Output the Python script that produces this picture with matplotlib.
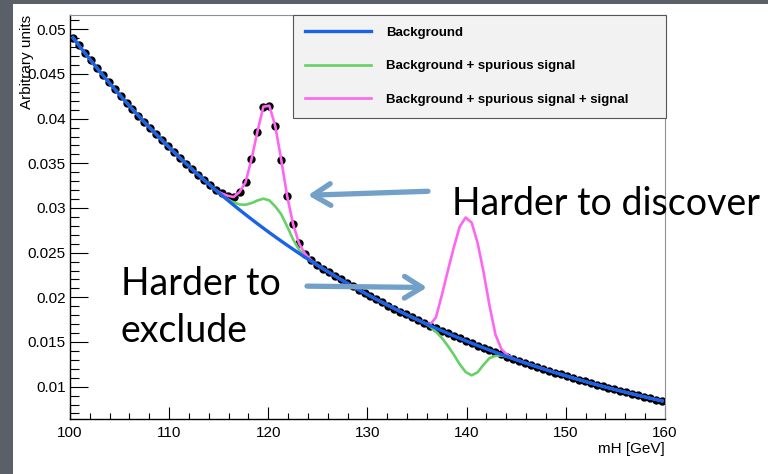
import numpy as np
import matplotlib
matplotlib.use("Agg")
import matplotlib.pyplot as plt
from matplotlib.patches import Rectangle
from matplotlib.ticker import MultipleLocator, FuncFormatter

# Centres des bins (0.6 GeV) entre 100 et 160 GeV
mass = np.round(np.arange(100.3, 160.0, 0.6), 1)

# Fond (unités arbitraires)
background = [
    0.049061, 0.048195, 0.047344, 0.046508, 0.045686, 0.044879, 0.044087, 0.043308, 0.042543, 0.041792,
    0.041054, 0.040329, 0.039616, 0.038917, 0.038229, 0.037554, 0.036891, 0.036239, 0.035599, 0.034971,
    0.034353, 0.033746, 0.033150, 0.032565, 0.031990, 0.031425, 0.030870, 0.030325, 0.029789, 0.029263,
    0.028746, 0.028238, 0.027739, 0.027249, 0.026768, 0.026295, 0.025831, 0.025375, 0.024927, 0.024487,
    0.024054, 0.023629, 0.023212, 0.022802, 0.022399, 0.022003, 0.021614, 0.021232, 0.020857, 0.020489,
    0.020127, 0.019772, 0.019423, 0.019080, 0.018743, 0.018412, 0.018087, 0.017767, 0.017453, 0.017145,
    0.016842, 0.016545, 0.016253, 0.015966, 0.015684, 0.015407, 0.015135, 0.014868, 0.014605, 0.014347,
    0.014094, 0.013845, 0.013600, 0.013360, 0.013124, 0.012892, 0.012664, 0.012440, 0.012220, 0.012004,
    0.011792, 0.011584, 0.011379, 0.011178, 0.010981, 0.010787, 0.010596, 0.010409, 0.010225, 0.010044,
    0.009867, 0.009693, 0.009522, 0.009354, 0.009189, 0.009027, 0.008868, 0.008711, 0.008557, 0.008406,
]

# Excès autour de 120 GeV (relatif au fond)
bins_120 = [115.3, 115.9, 116.5, 117.1, 117.7, 118.3, 118.9, 119.5, 120.1,
            120.7, 121.3, 121.9, 122.5, 123.1, 123.7, 124.3, 124.9]
spurious_120 = [0.0000, 0.0001, 0.0003, 0.0006, 0.0011, 0.0018, 0.0026, 0.0033, 0.0036,
                0.0034, 0.0030, 0.0021, 0.0011, 0.0004, 0.0001, 0.0000, 0.0000]
total_120 = [0.0002, 0.0005, 0.0009, 0.0020, 0.0036, 0.0067, 0.0103, 0.0136, 0.0142,
             0.0124, 0.0091, 0.0055, 0.0028, 0.0011, 0.0004, 0.0001, 0.0000]

# Excès autour de 140 GeV (relatif au fond)
bins_140 = [135.7, 136.3, 136.9, 137.5, 138.1, 138.7, 139.3, 139.9,
            140.5, 141.1, 141.7, 142.3, 142.9, 143.5, 144.1, 144.7]
spurious_140 = [0.0000, -0.0001, -0.0004, -0.0008, -0.0014, -0.0021, -0.0029, -0.0035,
                -0.0036, -0.0030, -0.0019, -0.0009, -0.0004, -0.0001, 0.0000, 0.0000]
total_140 = [0.0000, 0.0001, 0.0012, 0.0040, 0.0070, 0.0099, 0.0125, 0.0138,
             0.0135, 0.0115, 0.0085, 0.0050, 0.0020, 0.0006, 0.0002, 0.0000]

legend_labels = ["Background", "Background + spurious signal",
                 "Background + spurious signal + signal"]


def index_of(bins):
    return np.abs(mass[:, None] - np.array(bins)[None, :]).argmin(axis=0)


bkg = np.array(background)
bkg_spur = bkg.copy()
bkg_spur[index_of(bins_120)] += spurious_120
bkg_spur[index_of(bins_140)] += spurious_140
bkg_spur_sig = bkg.copy()
bkg_spur_sig[index_of(bins_120)] += total_120
bkg_spur_sig[index_of(bins_140)] += total_140
# Les données suivent le signal à 120 GeV et le fond ailleurs
data = bkg.copy()
data[index_of(bins_120)] += total_120

font = "Liberation Sans"

fig = plt.figure(figsize=(7.68, 4.74), dpi=100)
fig.patch.set_facecolor("#5b5f67")
fig.add_artist(Rectangle((13 / 768, 0), 1 - 13 / 768, 1 - 4 / 474, transform=fig.transFigure,
                         facecolor="white", edgecolor="none", zorder=-1))

ax = fig.add_axes([70 / 768, 1 - 419 / 474, 595 / 768, 404 / 474])
ax.set_facecolor("white")

ax.plot(mass, data, "o", color="black", markersize=5.0, zorder=2)
l_spur, = ax.plot(mass, bkg_spur, color="#66d166", lw=1.9, zorder=3)
l_sig, = ax.plot(mass, bkg_spur_sig, color="#ff66f0", lw=1.9, zorder=4)
l_bkg, = ax.plot(mass, bkg, color="#1a62e8", lw=2.4, zorder=5)

ax.set_xlim(100, 160)
ax.set_ylim(0.00638, 0.0516)
ax.xaxis.set_major_locator(MultipleLocator(10))
ax.xaxis.set_minor_locator(MultipleLocator(2))
ax.yaxis.set_major_locator(MultipleLocator(0.005))
ax.yaxis.set_minor_locator(MultipleLocator(0.001))
ax.yaxis.set_major_formatter(FuncFormatter(lambda v, p: "%g" % round(v, 4)))

ax.tick_params(axis="y", which="major", direction="in", length=12.7, width=0.8, pad=3)
ax.tick_params(axis="y", which="minor", direction="in", length=6.3, width=0.8)
ax.tick_params(axis="x", which="major", direction="in", length=8.4, width=0.8, pad=5)
ax.tick_params(axis="x", which="minor", direction="in", length=4.1, width=0.8)
ax.tick_params(top=False, right=False, which="both", labelsize=11, colors="black")
for lab in ax.get_xticklabels() + ax.get_yticklabels():
    lab.set_family(font)

for side in ["left", "bottom"]:
    ax.spines[side].set_color("black")
    ax.spines[side].set_linewidth(1.0)
for side in ["top", "right"]:
    ax.spines[side].set_color("#909090")
    ax.spines[side].set_linewidth(0.8)

leg = ax.legend([l_bkg, l_spur, l_sig], legend_labels, loc="upper left",
                bbox_to_anchor=(0.3748, 0.0, 0.627, 1.0), mode="expand", borderaxespad=0,
                prop={"family": font, "weight": "bold", "size": 9.5},
                fancybox=False, framealpha=1, facecolor="#f2f2f2", edgecolor="#555555",
                borderpad=0.88, labelspacing=1.62, handlelength=5.0, handletextpad=1.2)
leg.get_frame().set_linewidth(0.8)
leg.set_zorder(10)

fig.text(27 / 768, 1 - 15 / 474, "Arbitrary units", rotation=90, ha="center", va="top",
         fontsize=11, family=font)
fig.text(665 / 768, 1 - 449 / 474, "mH [GeV]", ha="right", va="center", fontsize=11, family=font)

# Annotations
fig.text(452 / 768, 1 - 215 / 474, "Harder to discover", fontsize=27, family="Lato",
         va="baseline", ha="left", zorder=12)
fig.text(121 / 768, 1 - 295 / 474, "Harder to", fontsize=27, family="Lato",
         va="baseline", ha="left", zorder=12)
fig.text(121 / 768, 1 - 342 / 474, "exclude", fontsize=27, family="Lato",
         va="baseline", ha="left", zorder=12)

arrow = dict(arrowstyle="->,head_length=0.42,head_width=0.26", color="#72a0c8", lw=3.8,
             mutation_scale=30, shrinkA=0, shrinkB=0)
ax.annotate("", xy=(124.0, 0.03142), xytext=(136.1, 0.03187), arrowprops=arrow,
            annotation_clip=False, zorder=11)
ax.annotate("", xy=(136.0, 0.02110), xytext=(123.9, 0.02125), arrowprops=arrow,
            annotation_clip=False, zorder=11)

fig.savefig("out.png", dpi=100, facecolor=fig.get_facecolor())
